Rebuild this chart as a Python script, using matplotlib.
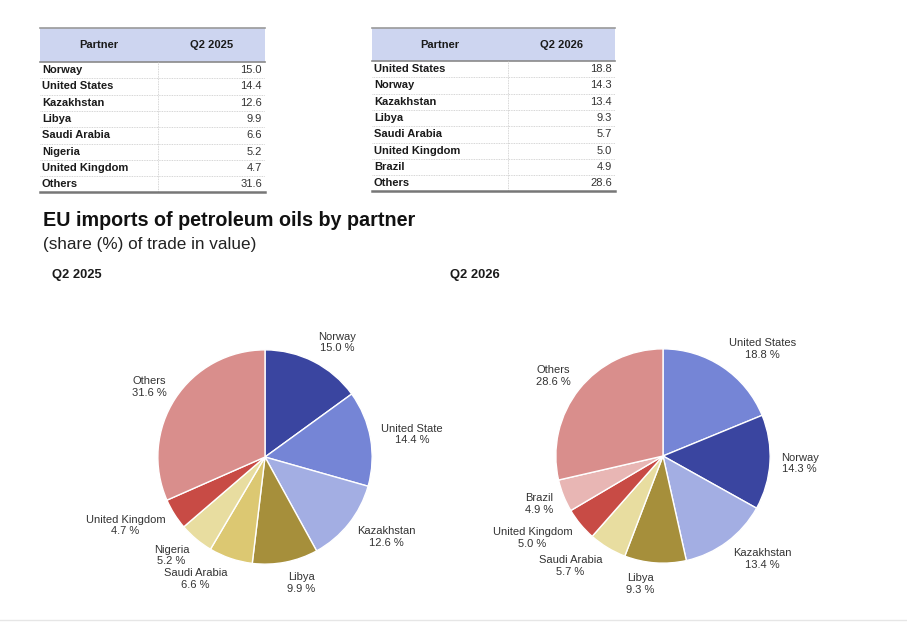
import matplotlib
matplotlib.use("Agg")
import matplotlib.pyplot as plt
import numpy as np
from matplotlib.patches import Rectangle

plt.rcParams["font.family"] = ["Liberation Sans", "DejaVu Sans"]

# ── data ─────────────────────────────────────────────────────────────────────
partners_2025 = ["Norway", "United States", "Kazakhstan", "Libya", "Saudi Arabia",
                 "Nigeria", "United Kingdom", "Others"]
shares_2025 = [15.0, 14.4, 12.6, 9.9, 6.6, 5.2, 4.7, 31.6]
pie_labels_2025 = ["Norway", "United State", "Kazakhstan", "Libya", "Saudi Arabia",
                   "Nigeria", "United Kingdom", "Others"]

partners_2026 = ["United States", "Norway", "Kazakhstan", "Libya", "Saudi Arabia",
                 "United Kingdom", "Brazil", "Others"]
shares_2026 = [18.8, 14.3, 13.4, 9.3, 5.7, 5.0, 4.9, 28.6]

_COLORS = {
    "Norway": "#3A45A0",
    "United States": "#7585D6",
    "Kazakhstan": "#A3AEE3",
    "Libya": "#A68F3B",
    "Nigeria": "#E8DDA0",
    "United Kingdom": "#C84B45",
    "Brazil": "#E8B6B4",
    "Others": "#D98E8C",
}
colors_2025 = [_COLORS.get(p, "#DCC872") for p in partners_2025]
colors_2026 = [_COLORS.get(p, "#E8DDA0") for p in partners_2026]

W, H = 907, 625
fig = plt.figure(figsize=(W / 100, H / 100), dpi=100)
fig.patch.set_facecolor("white")

# overlay axes in pixel coordinates (origin top-left)
ov = fig.add_axes([0, 0, 1, 1])
ov.set_xlim(0, W)
ov.set_ylim(H, 0)
ov.axis("off")

TXT = "#1a1a1a"


def draw_table(x0, x1, xsep, head_bot, year, partners, shares):
    top, row_h = 28, 16.3
    ov.add_patch(Rectangle((x0, top), x1 - x0, head_bot - top,
                           facecolor="#CDD5F0", edgecolor="none", zorder=1))
    ov.plot([x0, x1], [top, top], color="#9A9A9A", lw=1.2, zorder=2)
    ov.plot([x0, x1], [head_bot, head_bot], color="#8A8A8A", lw=1.2, zorder=2)
    ov.text((x0 + xsep) / 2, (top + head_bot) / 2, "Partner", ha="center",
            va="center", fontsize=8, fontweight="bold", color=TXT)
    ov.text((xsep + x1) / 2, (top + head_bot) / 2, year, ha="center",
            va="center", fontsize=8, fontweight="bold", color=TXT)
    for i, (p, s) in enumerate(zip(partners, shares)):
        yc = head_bot + row_h * (i + 0.5)
        ov.text(x0 + 2, yc, p, ha="left", va="center", fontsize=8,
                fontweight="bold", color=TXT)
        ov.text(x1 - 3, yc, f"{s:.1f}", ha="right", va="center", fontsize=8,
                color="#333333")
        if i < len(partners) - 1:
            ov.plot([x0, x1], [yc + row_h / 2] * 2, color="#C8C8C8", lw=0.6,
                    ls=(0, (1, 1)), zorder=2)
    bot = head_bot + row_h * len(partners)
    ov.plot([xsep, xsep], [head_bot, bot], color="#C8C8C8", lw=0.6,
            ls=(0, (1, 1)), zorder=2)
    ov.plot([x0, x1], [bot, bot], color="#777777", lw=1.8, zorder=2)


draw_table(40, 265, 158, 62, "Q2 2025", partners_2025, shares_2025)
draw_table(372, 615, 508, 61, "Q2 2026", partners_2026, shares_2026)

ov.text(43, 221, "EU imports of petroleum oils by partner", ha="left", va="center",
        fontsize=14.2, fontweight="bold", color="#111111")
ov.text(43, 245, "(share (%) of trade in value)", ha="left", va="center",
        fontsize=12.3, color="#222222")
ov.text(52, 275, "Q2 2025", ha="left", va="center", fontsize=9.3,
        fontweight="bold", color=TXT)
ov.text(450, 275, "Q2 2026", ha="left", va="center", fontsize=9.3,
        fontweight="bold", color=TXT)
ov.plot([0, W], [620, 620], color="#E6E6E6", lw=1)


def draw_pie(cx, cy, labels, shares, colors):
    size = 300
    ax = fig.add_axes([(cx - size / 2) / W, (H - cy - size / 2) / H, size / W, size / H])
    wedges, texts = ax.pie(
        shares, colors=colors, startangle=90, counterclock=False,
        labels=[f"{l}\n{s:.1f} %" for l, s in zip(labels, shares)],
        labeldistance=1.1, radius=1,
        wedgeprops=dict(edgecolor="white", linewidth=1),
        textprops=dict(fontsize=8, color="#333333", multialignment="center"))
    # push labels away vertically, more so near top and bottom
    for w, t in zip(wedges, texts):
        ang = np.deg2rad((w.theta1 + w.theta2) / 2)
        x, y = t.get_position()
        t.set_position((x, y + 0.1 * np.sin(ang)))
    ax.set_xlim(-1.4, 1.4)
    ax.set_ylim(-1.4, 1.4)
    ax.set_aspect("equal")
    ax.axis("off")


draw_pie(265, 457, pie_labels_2025, shares_2025, colors_2025)
draw_pie(663, 456, partners_2026, shares_2026, colors_2026)

fig.savefig("out.png", dpi=100)
